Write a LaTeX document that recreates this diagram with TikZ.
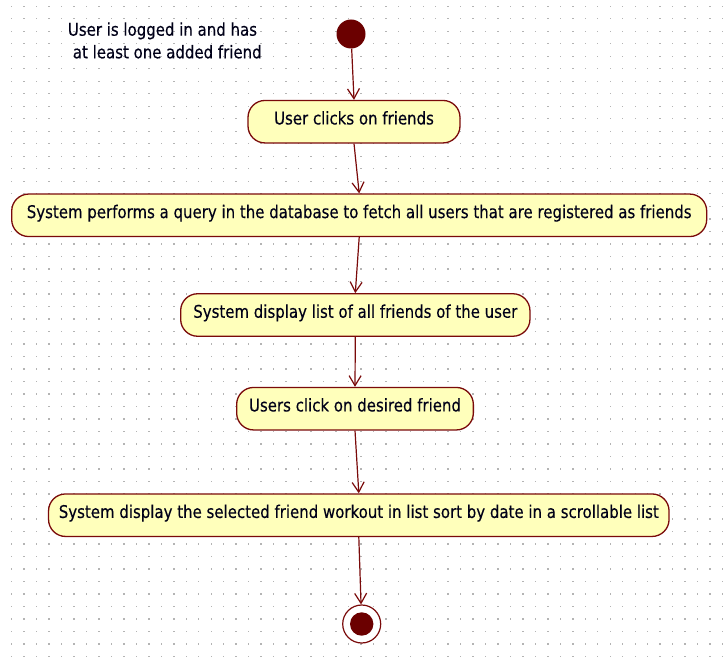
\documentclass[tikz,border=0pt]{standalone}
\usepackage{fontspec}
\setmainfont{DejaVu Sans}[FakeStretch=0.855,FakeBold=0.3]
\usetikzlibrary{arrows.meta}
\definecolor{umlred}{HTML}{7A0A0A}
\definecolor{startred}{HTML}{6B0000}
\definecolor{actfill}{HTML}{FFFFBB}
\definecolor{dotgray}{HTML}{B4B4B4}
\definecolor{txt}{HTML}{000018}
\begin{document}
\begin{tikzpicture}[x=1pt,y=-1pt,
  act/.style={draw=umlred, line width=1.3pt, fill=actfill, rounded corners=17pt,
    minimum height=42.5pt, inner sep=0pt, text=txt, text height=13pt, text depth=7.5pt,
    font=\fontsize{17.5}{20}\selectfont},
  flow/.style={draw=umlred, line width=1.2pt,
    -{Straight Barb[length=10pt,width=12pt,line width=1.2pt]}},
  note/.style={anchor=base west, inner sep=0pt, text=txt, font=\fontsize{17.5}{20}\selectfont}]
\useasboundingbox (0,0) rectangle (725,663);
\fill[white] (0,0) rectangle (725,663);
\foreach \i in {0,...,57}{
  \foreach \j in {0,...,52}{
    \fill[dotgray] ({11.7+12.47*\i-0.7},{6.3+12.5*\j-0.7}) rectangle ++(1.4,1.4);
  }
}
\node[note] (pre1) at (67.7,35.7) {User is logged in and has};
\node[note] (pre2) at (72.7,58.3) {at least one added friend};
\node[circle, fill=startred, minimum size=29pt, inner sep=0pt] (start) at (351,34) {};
\node[act, minimum width=212pt] (a1) at (354,121.7) {User clicks on friends};
\node[act, minimum width=695pt] (a2) at (359.2,215.3) {System performs a query in the database to fetch all users that are registered as friends};
\node[act, minimum width=349.3pt] (a3) at (355.3,315) {System display list of all friends of the user};
\node[act, minimum width=236.7pt] (a4) at (355,408.7) {Users click on desired friend};
\node[act, minimum width=620.5pt] (a5) at (358.8,515.2) {System display the selected friend workout in list sort by date in a scrollable list};
\node[circle, draw=umlred, line width=1.2pt, fill=white, minimum size=38pt, inner sep=0pt] (end) at (361.7,624) {};
\fill[startred] (end.center) circle (11.7);
\draw[flow] (start) -- (a1.north);
\draw[flow] (a1.south) -- (a2.north);
\draw[flow] (a2.south) -- (a3.north);
\draw[flow] (a3.south) -- (a4.north);
\draw[flow] (a4.south) -- (a5.north);
\draw[flow] (a5.south) -- (end);
\end{tikzpicture}
\end{document}
